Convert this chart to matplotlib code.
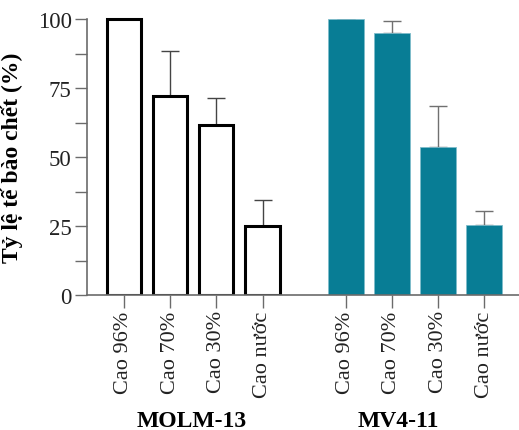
import matplotlib
matplotlib.use("Agg")
import matplotlib.pyplot as plt
import matplotlib.transforms as mtransforms
from matplotlib.patches import Rectangle
import numpy as np

plt.rcParams['font.family'] = ['Liberation Serif', 'DejaVu Serif']

categories = ["Cao 96%", "Cao 70%", "Cao 30%", "Cao nước"]
groups = ["MOLM-13", "MV4-11"]
molm_vals = [100, 72, 61.5, 25]
molm_err = [0, 16.5, 9.8, 9.5]
mv4_vals = [100, 95, 53.8, 25.5]
mv4_err = [0, 4.3, 14.8, 4.8]
yticks = [0, 25, 50, 75, 100]

teal = '#087d95'
axis_gray = '#6b6b6b'

fig = plt.figure(figsize=(5.19, 4.31), dpi=100)
ax = fig.add_axes([87/519, 1-296/431, 1-87/519, (296-20)/431])

x1 = np.arange(4)
x2 = np.arange(4) + 4.8
w = 0.74

b1 = ax.bar(x1, molm_vals, width=w, color='white', edgecolor='black', linewidth=2.2, zorder=3,
            yerr=[np.zeros(4), molm_err], error_kw=dict(ecolor='#444444', elinewidth=1.0, capsize=6.5, capthick=1.0, zorder=2))
b2 = ax.bar(x2, mv4_vals, width=w + 0.04, color=teal, edgecolor='#7fbccb', linewidth=0.6, zorder=3,
            yerr=[np.zeros(4), mv4_err], error_kw=dict(ecolor='#707070', elinewidth=1.0, capsize=6.5, capthick=1.0, zorder=2))
clip = Rectangle((0, 0), 1, 1.1, transform=ax.transAxes, facecolor='none', edgecolor='none')
for p in list(b1) + list(b2):
    p.set_clip_path(clip)

ax.set_ylim(0, 100)
ax.set_xlim(-0.80, 8.55)
ax.set_yticks(yticks)
ax.set_yticks([12.5, 37.5, 62.5, 87.5], minor=True)
ax.tick_params(axis='y', which='both', length=9, width=1, color=axis_gray, labelsize=16.5, pad=2, labelcolor='#222222')

ax.set_xticks(list(x1) + list(x2))
ax.set_xticklabels(categories + categories, rotation=90, fontsize=16, color='#222222')
ax.tick_params(axis='x', length=9, width=1, color=axis_gray, pad=2)

for s in ['top', 'right']:
    ax.spines[s].set_visible(False)
for s in ['left', 'bottom']:
    ax.spines[s].set_color(axis_gray)
    ax.spines[s].set_linewidth(1.2)
ax.spines['bottom'].set_zorder(4)

ax.set_ylabel("Tỷ lệ tế bào chết (%)", fontsize=17, fontweight='bold', labelpad=8)
ax.yaxis.set_label_coords(-(87-23)/432, 0.5)

trans = mtransforms.blended_transform_factory(ax.transData, fig.transFigure)
ax.text(1.47, 1-422/431, groups[0], transform=trans, ha='center', va='center',
        fontsize=17, fontweight='bold')
ax.text(5.93, 1-422/431, groups[1], transform=trans, ha='center', va='center',
        fontsize=17, fontweight='bold')

fig.savefig("out.png", dpi=100)
